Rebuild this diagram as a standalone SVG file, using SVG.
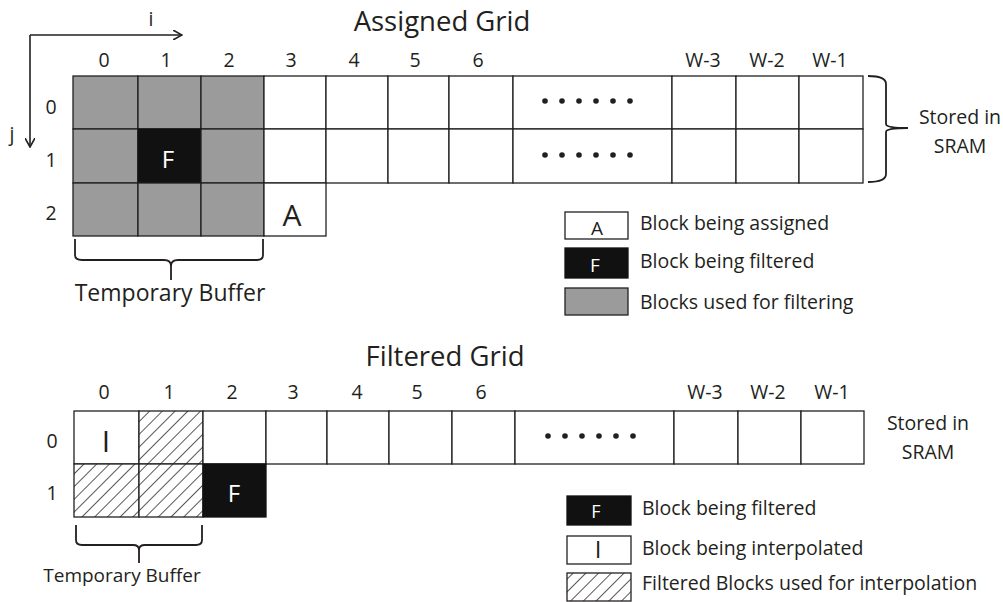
<svg xmlns="http://www.w3.org/2000/svg" width="1003" height="602" viewBox="0 0 1003 602">
<defs>
<style>
text{font-family:"Open Sans","Noto Sans",sans-serif;fill:#231f20}
.lbl{font-size:19.5px;text-anchor:middle}
.ttl{font-size:27.5px;text-anchor:middle}
.leg{font-size:19.5px}
.cell{fill:#fff;stroke:#231f20;stroke-width:1.3}
.gray{fill:#9b9b9b;stroke:#231f20;stroke-width:1.3}
.blk{fill:#111;stroke:#111;stroke-width:1.3}
.hat{fill:url(#hatch);stroke:#231f20;stroke-width:1.3}
.br{fill:none;stroke:#231f20;stroke-width:1.8}
.wt{fill:#fff;text-anchor:middle}
.ctr{text-anchor:middle}
</style>
<pattern id="hatch" patternUnits="userSpaceOnUse" width="9" height="9" patternTransform="rotate(45)">
<rect width="9" height="9" fill="#fff"/>
<line x1="0" y1="0" x2="0" y2="9" stroke="#231f20" stroke-width="1.5"/>
</pattern>
<marker id="arr" viewBox="0 0 10 10" refX="9" refY="5" markerWidth="10" markerHeight="10" markerUnits="userSpaceOnUse" orient="auto">
<path d="M0,0 L9,5 L0,10" fill="none" stroke="#231f20" stroke-width="1.6"/>
</marker>
<g id="dots6">
<circle cx="0" cy="0" r="2.8"/><circle cx="17" cy="0" r="2.8"/><circle cx="34" cy="0" r="2.8"/>
<circle cx="51" cy="0" r="2.8"/><circle cx="68" cy="0" r="2.8"/><circle cx="85" cy="0" r="2.8"/>
</g>
</defs>
<rect width="1003" height="602" fill="#fff"/>

<g id="axes">
<line x1="30" y1="35" x2="182" y2="35" stroke="#231f20" stroke-width="1.6" marker-end="url(#arr)"/>
<line x1="30" y1="35" x2="30" y2="147" stroke="#231f20" stroke-width="1.6" marker-end="url(#arr)"/>
<text x="151" y="26" class="lbl">i</text>
<text x="12" y="141" class="lbl">j</text>
</g>

<g id="assigned-grid">
<text x="442" y="31" class="ttl">Assigned Grid</text>
<g id="a-col-labels">
<text x="104" y="67" class="lbl">0</text><text x="166" y="67" class="lbl">1</text><text x="229" y="67" class="lbl">2</text>
<text x="291" y="67" class="lbl">3</text><text x="354" y="67" class="lbl">4</text><text x="415" y="67" class="lbl">5</text>
<text x="478" y="67" class="lbl">6</text><text x="703" y="67" class="lbl">W-3</text><text x="767" y="67" class="lbl">W-2</text>
<text x="830" y="67" class="lbl">W-1</text>
</g>
<g id="a-row-labels">
<text x="51" y="114" class="lbl">0</text><text x="51" y="167" class="lbl">1</text><text x="51" y="220" class="lbl">2</text>
</g>
<g id="a-row0">
<rect x="73" y="76" width="65" height="53" class="gray"/>
<rect x="138" y="76" width="63" height="53" class="gray"/>
<rect x="201" y="76" width="63" height="53" class="gray"/>
<rect x="264" y="76" width="62" height="53" class="cell"/>
<rect x="326" y="76" width="62" height="53" class="cell"/>
<rect x="388" y="76" width="61" height="53" class="cell"/>
<rect x="449" y="76" width="64" height="53" class="cell"/>
<rect x="513" y="76" width="159" height="53" class="cell"/>
<rect x="672" y="76" width="64" height="53" class="cell"/>
<rect x="736" y="76" width="63" height="53" class="cell"/>
<rect x="799" y="76" width="64" height="53" class="cell"/>
<use href="#dots6" x="545" y="101" fill="#231f20"/>
</g>
<g id="a-row1">
<rect x="73" y="129" width="65" height="54" class="gray"/>
<rect x="138" y="129" width="63" height="54" class="blk"/>
<rect x="201" y="129" width="63" height="54" class="gray"/>
<rect x="264" y="129" width="62" height="54" class="cell"/>
<rect x="326" y="129" width="62" height="54" class="cell"/>
<rect x="388" y="129" width="61" height="54" class="cell"/>
<rect x="449" y="129" width="64" height="54" class="cell"/>
<rect x="513" y="129" width="159" height="54" class="cell"/>
<rect x="672" y="129" width="64" height="54" class="cell"/>
<rect x="736" y="129" width="63" height="54" class="cell"/>
<rect x="799" y="129" width="64" height="54" class="cell"/>
<text x="168" y="168" class="wt" font-size="24">F</text>
<use href="#dots6" x="545" y="155" fill="#231f20"/>
</g>
<g id="a-row2">
<rect x="73" y="183" width="65" height="53" class="gray"/>
<rect x="138" y="183" width="63" height="53" class="gray"/>
<rect x="201" y="183" width="63" height="53" class="gray"/>
<rect x="264" y="183" width="62" height="53" class="cell"/>
<text x="292" y="226" class="ctr" font-size="30">A</text>
</g>
</g>

<g id="a-sram">
<path d="M868,76 Q886,76 886,84 L886,124 Q886,128 908,128 Q886,128 886,132 L886,174 Q886,182 868,182" class="br"/>
<text x="960" y="124" class="leg ctr">Stored in</text>
<text x="960" y="153" class="leg ctr">SRAM</text>
</g>

<g id="a-tempbuf">
<path d="M75,239 L75,255 Q75,260 82,260 L164,260 Q171,260 171,266 L171,280 M171,266 Q171,260 178,260 L257,260 Q263,260 263,255 L263,239" class="br"/>
<text x="170" y="301" class="ctr" font-size="23">Temporary Buffer</text>
</g>

<g id="a-legend">
<rect x="565" y="212" width="63" height="27" class="cell"/>
<text x="597" y="235" class="ctr" font-size="19">A</text>
<text x="640" y="230" class="leg">Block being assigned</text>
<rect x="565" y="248" width="63" height="30" class="blk"/>
<text x="595" y="272" class="wt" font-size="19">F</text>
<text x="640" y="268" class="leg">Block being filtered</text>
<rect x="565" y="288" width="63" height="27" class="gray"/>
<text x="640" y="309" class="leg">Blocks used for filtering</text>
</g>

<g id="filtered-grid">
<text x="445" y="366" class="ttl">Filtered Grid</text>
<g id="f-col-labels">
<text x="104" y="399" class="lbl">0</text><text x="169" y="399" class="lbl">1</text><text x="232" y="399" class="lbl">2</text>
<text x="293" y="399" class="lbl">3</text><text x="357" y="399" class="lbl">4</text><text x="417" y="399" class="lbl">5</text>
<text x="481" y="399" class="lbl">6</text><text x="705" y="399" class="lbl">W-3</text><text x="768" y="399" class="lbl">W-2</text>
<text x="832" y="399" class="lbl">W-1</text>
</g>
<g id="f-row-labels">
<text x="52" y="448" class="lbl">0</text><text x="52" y="500" class="lbl">1</text>
</g>
<g id="f-row0">
<rect x="74" y="411" width="65" height="53" class="cell"/>
<rect x="139" y="411" width="64" height="53" class="hat"/>
<rect x="203" y="411" width="63" height="53" class="cell"/>
<rect x="266" y="411" width="61" height="53" class="cell"/>
<rect x="327" y="411" width="62" height="53" class="cell"/>
<rect x="389" y="411" width="63" height="53" class="cell"/>
<rect x="452" y="411" width="63" height="53" class="cell"/>
<rect x="515" y="411" width="159" height="53" class="cell"/>
<rect x="674" y="411" width="64" height="53" class="cell"/>
<rect x="738" y="411" width="63" height="53" class="cell"/>
<rect x="801" y="411" width="63" height="53" class="cell"/>
<text x="106" y="452" class="ctr" font-size="30">I</text>
<use href="#dots6" x="548" y="436" fill="#231f20"/>
</g>
<g id="f-row1">
<rect x="74" y="464" width="65" height="53" class="hat"/>
<rect x="139" y="464" width="64" height="53" class="hat"/>
<rect x="203" y="464" width="63" height="53" class="blk"/>
<text x="234" y="502" class="wt" font-size="24">F</text>
</g>
</g>

<g id="f-sram">
<text x="928" y="430" class="leg ctr">Stored in</text>
<text x="928" y="459" class="leg ctr">SRAM</text>
</g>

<g id="f-tempbuf">
<path d="M76,525 L76,540 Q76,545 82,545 L133,545 Q139,545 139,550 L139,563 M139,550 Q139,545 145,545 L196,545 Q202,545 202,540 L202,525" class="br"/>
<text x="122" y="582" class="ctr" font-size="19">Temporary Buffer</text>
</g>

<g id="f-legend">
<rect x="567" y="496" width="64" height="29" class="blk"/>
<text x="596" y="518" class="wt" font-size="18">F</text>
<text x="642" y="515" class="leg">Block being filtered</text>
<rect x="567" y="536" width="64" height="28" class="cell"/>
<text x="598" y="558" class="ctr" font-size="24">I</text>
<text x="642" y="555" class="leg">Block being interpolated</text>
<rect x="567" y="573" width="64" height="28" class="hat"/>
<text x="642" y="590" class="leg">Filtered Blocks used for interpolation</text>
</g>
</svg>
